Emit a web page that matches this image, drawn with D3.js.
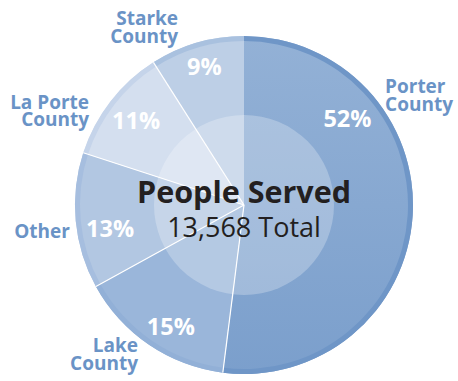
<!DOCTYPE html>
<html>
<head>
<meta charset="utf-8">
<script src="https://cdn.jsdelivr.net/npm/d3@7"></script>
<style>
  html, body { margin: 0; padding: 0; background: #ffffff; }
  svg { display: block; }
  text { font-family: "Open Sans", "Noto Sans", sans-serif; }
</style>
</head>
<body>
<svg id="chart" width="458" height="381"></svg>
<script>
// Share of people served, by county (percent), clockwise from 12 o'clock
const counties = ["Porter County", "Lake County", "Other", "La Porte County", "Starke County"];
const shares = [52, 15, 13, 11, 9];
const totalServed = 13568;

// Slice fills and their darker outer rims
const fills = ["#89a9d1", "#9ab6da", "#b2c7e2", "#d4dfef", "#bdcfe6"];
const rims  = ["#6f96c7", "#92b0d7", "#a6bedf", "#c5d4ea", "#a9c1df"];

// Label placement around the pie: [angle in degrees clockwise from top, radius]
const namePlace = [[52, 179], [-144.6, 183], [-98.5, 176], [-58.6, 181.5], [-20.3, 190]];
const pctPlace  = [[50, 135], [211, 142], [-100, 136], [-52, 137], [-16, 144]];

const W = 458, H = 381;
const cx = 244, cy = 205;
const R = 169, rimW = 5, innerR = 90;

const svg = d3.select("#chart");
const g = svg.append("g").attr("transform", `translate(${cx},${cy})`);

const pie = d3.pie().sort(null).value(d => d)(shares);
const arc = d3.arc().innerRadius(0).outerRadius(R);
const rimArc = d3.arc().innerRadius(R - rimW).outerRadius(R);

// Vertical shading on the big slice
const defs = svg.append("defs");
const grad = defs.append("linearGradient")
  .attr("id", "porterShade").attr("gradientUnits", "userSpaceOnUse")
  .attr("x1", 0).attr("y1", -R).attr("x2", 0).attr("y2", R);
grad.append("stop").attr("offset", "0%").attr("stop-color", "#93b1d6");
grad.append("stop").attr("offset", "100%").attr("stop-color", "#7b9fcc");

g.selectAll("path.slice").data(pie).join("path")
  .attr("class", "slice")
  .attr("d", arc)
  .attr("fill", (d, i) => i === 0 ? "url(#porterShade)" : fills[i]);

g.selectAll("path.rim").data(pie).join("path")
  .attr("class", "rim")
  .attr("d", rimArc)
  .attr("fill", (d, i) => rims[i]);

// Light hub over the middle of the pie
g.append("circle")
  .attr("r", innerR)
  .attr("fill", "#ffffff")
  .attr("fill-opacity", 0.26);

// White dividers between slices (none at 12 o'clock)
g.selectAll("line.divider").data(pie.slice(0, pie.length - 1)).join("line")
  .attr("class", "divider")
  .attr("x1", 0).attr("y1", 0)
  .attr("x2", d => R * Math.sin(d.endAngle))
  .attr("y2", d => -R * Math.cos(d.endAngle))
  .attr("stroke", "#ffffff")
  .attr("stroke-width", 1.2);

const polar = (deg, r) => {
  const a = deg * Math.PI / 180;
  return [r * Math.sin(a), -r * Math.cos(a)];
};

// Percent labels inside the slices
g.selectAll("text.pct").data(pie).join("text")
  .attr("class", "pct")
  .attr("transform", (d, i) => {
    const [x, y] = polar(pctPlace[i][0], pctPlace[i][1]);
    return `translate(${x},${y})`;
  })
  .attr("text-anchor", "middle")
  .attr("dy", "0.36em")
  .attr("fill", "#ffffff")
  .attr("font-weight", 700)
  .attr("font-size", 23.5)
  .text(d => d3.format("d")(d.data) + "%");

// County names outside the pie
const lineH = 17.5;
g.selectAll("text.name").data(pie).join("text")
  .attr("class", "name")
  .attr("transform", (d, i) => {
    const [x, y] = polar(namePlace[i][0], namePlace[i][1]);
    return `translate(${x},${y})`;
  })
  .attr("text-anchor", (d, i) => namePlace[i][0] > 0 && namePlace[i][0] < 180 ? "start" : "end")
  .attr("fill", "#6a93c6")
  .attr("font-weight", 700)
  .attr("font-size", 19)
  .each(function(d, i) {
    const words = counties[i].split(/ (?=County)/);
    const t = d3.select(this);
    const startDy = -(words.length - 1) * lineH / 2;
    words.forEach((w, k) => {
      t.append("tspan")
        .attr("x", 0)
        .attr("dy", k === 0 ? (startDy + 7) : lineH)
        .text(w);
    });
  });

// Title in the hub
g.append("text")
  .attr("x", 0).attr("y", -2)
  .attr("text-anchor", "middle")
  .attr("fill", "#231f20")
  .attr("font-weight", 700)
  .attr("font-size", 30.5)
  .text("People Served");

g.append("text")
  .attr("x", 0).attr("y", 32)
  .attr("text-anchor", "middle")
  .attr("fill", "#231f20")
  .attr("font-weight", 500)
  .attr("font-size", 27)
  .text(d3.format(",")(totalServed) + " Total");
</script>
</body>
</html>
